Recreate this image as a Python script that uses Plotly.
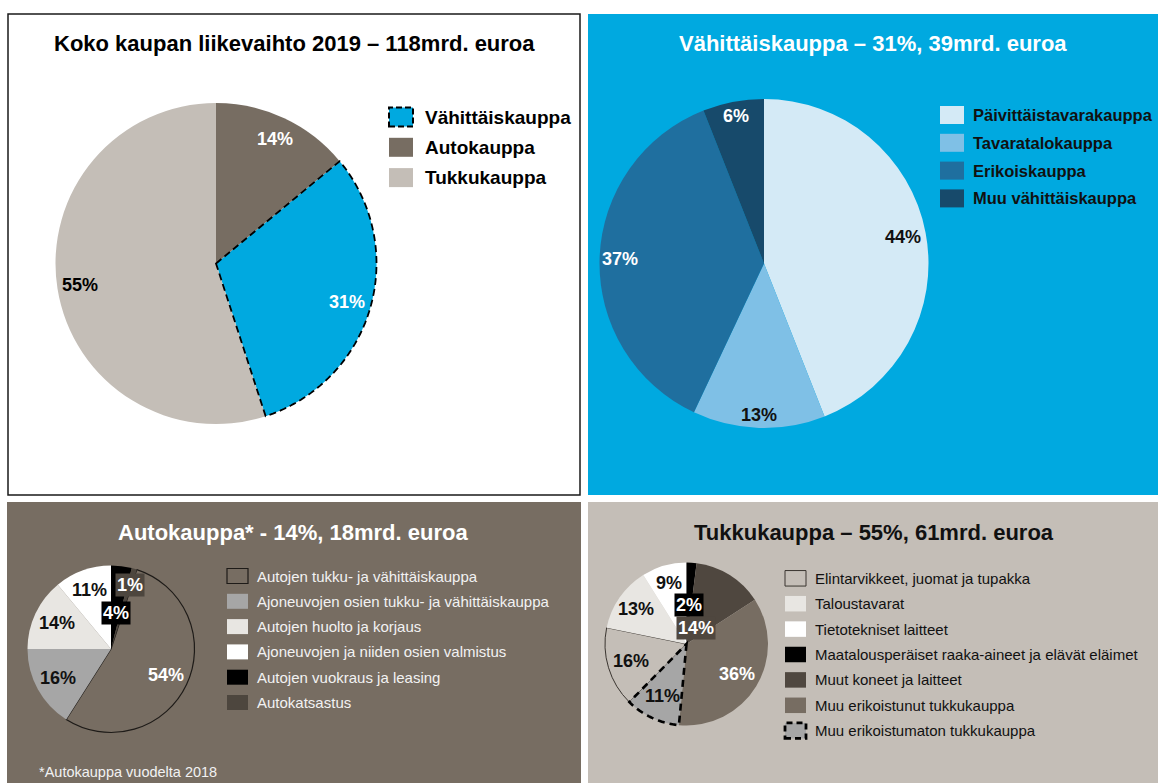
import math

import plotly.graph_objects as go

W, H = 1158, 783
FONT = "Liberation Sans, Arial, sans-serif"

# --- data -------------------------------------------------------------
total_title = "Koko kaupan liikevaihto 2019 – 118mrd. euroa"
total_labels = ["Vähittäiskauppa", "Autokauppa", "Tukkukauppa"]
total_values = [31, 14, 55]

retail_title = "Vähittäiskauppa – 31%, 39mrd. euroa"
retail_labels = ["Päivittäistavarakauppa", "Tavaratalokauppa", "Erikoiskauppa",
                 "Muu vähittäiskauppa"]
retail_values = [44, 13, 37, 6]

auto_title = "Autokauppa* - 14%, 18mrd. euroa"
auto_labels = ["Autojen tukku- ja vähittäiskauppa",
               "Ajoneuvojen osien tukku- ja vähittäiskauppa",
               "Autojen huolto ja korjaus",
               "Ajoneuvojen ja niiden osien valmistus",
               "Autojen vuokraus ja leasing",
               "Autokatsastus"]
auto_values = [54, 16, 14, 11, 4, 1]
auto_note = "*Autokauppa vuodelta 2018"

wholesale_title = "Tukkukauppa – 55%, 61mrd. euroa"
wholesale_labels = ["Elintarvikkeet, juomat ja tupakka",
                    "Taloustavarat",
                    "Tietotekniset laitteet",
                    "Maatalousperäiset raaka-aineet ja elävät eläimet",
                    "Muut koneet ja laitteet",
                    "Muu erikoistunut tukkukauppa",
                    "Muu erikoistumaton tukkukauppa"]
wholesale_values = [16, 13, 9, 2, 14, 36, 11]

# --- colours -----------------------------------------------------------
BLUE = "#00a9e0"
BROWN = "#776d62"
BEIGE = "#c4beb7"


def paper(x, y):
    return x / W, 1 - y / H


def polar(cx, cy, r, deg):
    t = math.radians(deg)
    return cx + r * math.sin(t), cy - r * math.cos(t)


def slice_spans(values, rotation, direction):
    # same angle logic as plotly.js pie (0 deg = 12 o'clock, clockwise positive)
    total = sum(values)
    spans = []
    if direction == "clockwise":
        a = rotation
        for v in values:
            d = 360 * v / total
            spans.append((a, a + d))
            a += d
    else:
        a = rotation + 360 * values[0] / total
        for v in values:
            d = 360 * v / total
            spans.append((a - d, a))
            a -= d
    return spans


def slice_path(cx, cy, r, a0, a1, n=80):
    pts = [(cx, cy)] + [polar(cx, cy, r, a0 + (a1 - a0) * i / n) for i in range(n + 1)]
    return "M " + " L ".join("%.5f,%.5f" % paper(x, y) for x, y in pts) + " Z"


fig = go.Figure()
shapes = []
annotations = []


def panel(x0, y0, x1, y1, fill, line=None):
    shapes.append(dict(type="rect", xref="paper", yref="paper", layer="below",
                       x0=x0 / W, x1=x1 / W, y0=1 - y1 / H, y1=1 - y0 / H,
                       fillcolor=fill,
                       line=dict(color=line or fill, width=1.5 if line else 0)))


def text(x, y, s, size, color, bold=False, xanchor="center", bg=None):
    px_, py_ = paper(x, y)
    annotations.append(dict(x=px_, y=py_, xref="paper", yref="paper", text=s,
                            showarrow=False, xanchor=xanchor, yanchor="middle",
                            font=dict(family=FONT, size=size, color=color,
                                      weight="bold" if bold else "normal"),
                            bgcolor=bg, borderpad=1))


def pie(labels, values, colors, cx, cy, r, rotation, direction, label_r, label_colors,
        label_bg=None, line_colors=None, line_widths=None, dashed=(), dash_width=2,
        dash="7px,4px", size=18):
    fig.add_trace(go.Pie(
        labels=labels, values=values, sort=False, rotation=rotation,
        direction=direction, textinfo="none", showlegend=False,
        hoverinfo="label+percent",
        marker=dict(colors=colors,
                    line=dict(color=line_colors or colors,
                              width=line_widths or [0] * len(values))),
        domain=dict(x=[(cx - r) / W, (cx + r) / W],
                    y=[1 - (cy + r) / H, 1 - (cy - r) / H]),
    ))
    spans = slice_spans(values, rotation, direction)
    for i, (a0, a1) in enumerate(spans):
        x, y = polar(cx, cy, label_r[i] * r, (a0 + a1) / 2)
        bg = label_bg[i] if label_bg else None
        text(x, y, "%d%%" % values[i], size, label_colors[i], bold=True, bg=bg)
        if i in dashed:
            shapes.append(dict(type="path", xref="paper", yref="paper", layer="above",
                               path=slice_path(cx, cy, r, a0, a1),
                               fillcolor="rgba(0,0,0,0)",
                               line=dict(color="#000000", width=dash_width, dash=dash)))


def legend(labels, colors, x, y, w, h, step, tx, size, color, bold=False, borders=None):
    for i, lab in enumerate(labels):
        yc = y + i * step
        b = (borders or {}).get(i)
        shapes.append(dict(type="rect", xref="paper", yref="paper", layer="above",
                           x0=x / W, x1=(x + w) / W,
                           y0=1 - (yc + h / 2) / H, y1=1 - (yc - h / 2) / H,
                           fillcolor=colors[i],
                           line=b if b else dict(width=0)))
        text(tx, yc, lab, size, color, bold=bold, xanchor="left")


# --- panels --------------------------------------------------------------
panel(8, 14, 580, 495, "#ffffff", line="#1a1a1a")
panel(588, 14, 1158, 495, BLUE)
panel(7, 502, 581, 783, BROWN)
panel(588, 502, 1158, 783, BEIGE)

# --- total -----------------------------------------------------------------
text(294, 43.5, total_title, 22, "#000000", bold=True)
total_colors = [BLUE, BROWN, BEIGE]
pie(total_labels, total_values, total_colors, 216, 263.5, 160.5,
    rotation=360 * total_values[1] / sum(total_values), direction="counterclockwise",
    label_r=[0.85, 0.86, 0.86], label_colors=["#ffffff", "#ffffff", "#000000"],
    dashed=(0,), dash_width=1.8)
legend(total_labels, total_colors, 389, 117, 24, 19, 30.3, 423, 19, "#000000",
       bold=True, borders={0: dict(color="#000000", width=2, dash="6px,3px")})

# --- retail ----------------------------------------------------------------
text(873, 43.5, retail_title, 22, "#ffffff", bold=True)
retail_colors = ["#d4eaf6", "#7fc0e6", "#1f6f9f", "#174a6b"]
pie(retail_labels, retail_values, retail_colors, 764, 263.5, 164.5,
    rotation=0, direction="clockwise",
    label_r=[0.86, 0.92, 0.875, 0.91],
    label_colors=["#111111", "#111111", "#ffffff", "#ffffff"])
legend(retail_labels, retail_colors, 940, 115, 24, 18, 27.8, 971, 16.5, "#111111",
       bold=True)

# --- auto -----------------------------------------------------------------
text(293, 532, auto_title, 22, "#ffffff", bold=True)
auto_colors = [BROWN, "#a6a6a6", "#e8e6e2", "#ffffff", "#000000", "#4d463e"]
pie(auto_labels, auto_values, auto_colors, 111, 649, 83.5,
    rotation=360 * sum(auto_values[4:]) / sum(auto_values), direction="clockwise",
    label_r=[0.73, 0.73, 0.72, 0.75, 0.44, 0.8],
    label_colors=["#ffffff", "#111111", "#111111", "#111111", "#ffffff", "#ffffff"],
    label_bg=[None, None, None, None, "#000000", "#4d463e"],
    line_colors=["#1e1b18"] + auto_colors[1:], line_widths=[1.2, 0, 0, 0, 0, 0])
legend(auto_labels, auto_colors, 227, 576, 21, 15, 25.3, 255, 15, "#f2f2f2",
       borders={0: dict(color="#1e1b18", width=1.2)})
text(37, 772, auto_note, 14.5, "#f2f2f2", xanchor="left")

# --- wholesale --------------------------------------------------------------
text(874, 532, wholesale_title, 22, "#111111", bold=True)
wholesale_colors = [BEIGE, "#e8e6e2", "#ffffff", "#000000", "#4f473f", BROWN, "#a6a6a6"]
pie(wholesale_labels, wholesale_values, wholesale_colors, 686.5, 644, 81.5,
    rotation=-360 * sum(wholesale_values[:3]) / sum(wholesale_values),
    direction="clockwise",
    label_r=[0.71, 0.75, 0.78, 0.48, 0.23, 0.72, 0.70],
    label_colors=["#111111", "#111111", "#111111", "#ffffff", "#ffffff", "#ffffff",
                  "#111111"],
    label_bg=[None, None, None, "#000000", "#4f473f", None, None],
    line_colors=["#3a3530"] + wholesale_colors[1:],
    line_widths=[1, 0, 0, 0, 0, 0, 0],
    dashed=(6,), dash_width=2.6, dash="7px,5px")
legend(wholesale_labels, wholesale_colors, 785, 578.3, 21, 15.5, 25.4, 813, 15,
       "#111111",
       borders={0: dict(color="#3a3530", width=1),
                6: dict(color="#000000", width=2.8, dash="6px,4px")})

fig.update_layout(
    width=W, height=H,
    margin=dict(l=0, r=0, t=0, b=0),
    paper_bgcolor="#ffffff",
    shapes=shapes,
    annotations=annotations,
    showlegend=False,
)

# the page body has a default 8px margin; drop it so the figure fills the window
fig.write_html("out.html", config={"displayModeBar": False},
               post_script="document.body.style.margin = '0px';")
